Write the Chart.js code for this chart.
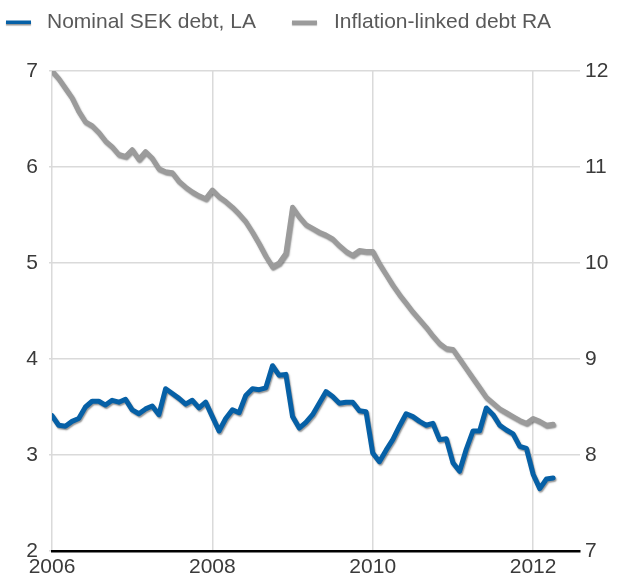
<!DOCTYPE html>
<html>
<head>
<meta charset="utf-8">
<script src="https://cdn.jsdelivr.net/npm/chart.js@4/dist/chart.umd.min.js"></script>
<style>
html,body{margin:0;padding:0;background:#fff;}
#wrap{width:619px;height:576px;position:relative;}
</style>
</head>
<body>
<div id="wrap"><canvas id="c" width="619" height="576"></canvas></div>
<script>
// ---- DATA ----
const months = [
"2006-01","2006-02","2006-03","2006-04","2006-05","2006-06","2006-07","2006-08","2006-09","2006-10","2006-11","2006-12",
"2007-01","2007-02","2007-03","2007-04","2007-05","2007-06","2007-07","2007-08","2007-09","2007-10","2007-11","2007-12",
"2008-01","2008-02","2008-03","2008-04","2008-05","2008-06","2008-07","2008-08","2008-09","2008-10","2008-11","2008-12",
"2009-01","2009-02","2009-03","2009-04","2009-05","2009-06","2009-07","2009-08","2009-09","2009-10","2009-11","2009-12",
"2010-01","2010-02","2010-03","2010-04","2010-05","2010-06","2010-07","2010-08","2010-09","2010-10","2010-11","2010-12",
"2011-01","2011-02","2011-03","2011-04","2011-05","2011-06","2011-07","2011-08","2011-09","2011-10","2011-11","2011-12",
"2012-01","2012-02","2012-03","2012-04"
];
const nominalSEK = [
3.41,3.31,3.30,3.35,3.38,3.50,3.56,3.56,3.52,3.57,3.55,3.58,
3.47,3.43,3.48,3.51,3.42,3.69,3.64,3.59,3.53,3.57,3.49,3.55,
3.40,3.25,3.38,3.47,3.44,3.62,3.69,3.68,3.70,3.93,3.83,3.84,
3.40,3.28,3.34,3.42,3.54,3.66,3.61,3.54,3.55,3.55,3.46,3.45,
3.02,2.93,3.05,3.16,3.30,3.43,3.40,3.35,3.31,3.33,3.16,3.17,
2.92,2.83,3.06,3.25,3.25,3.49,3.42,3.31,3.26,3.22,3.09,3.07,
2.80,2.65,2.75,2.76
];
const inflationLinked = [
12.00,11.92,11.82,11.72,11.58,11.47,11.43,11.36,11.27,11.21,11.13,11.11,
11.18,11.08,11.16,11.09,10.98,10.95,10.94,10.85,10.79,10.74,10.70,10.67,
10.76,10.69,10.64,10.58,10.51,10.43,10.32,10.20,10.07,9.96,10.00,10.10,
10.58,10.48,10.40,10.36,10.32,10.29,10.25,10.18,10.12,10.08,10.13,10.12,
10.12,9.99,9.88,9.77,9.67,9.58,9.49,9.41,9.33,9.24,9.16,9.11,
9.10,9.00,8.90,8.80,8.70,8.60,8.54,8.48,8.44,8.40,8.36,8.33,
8.38,8.35,8.31,8.32
];
const xTickYears = [2006, 2008, 2010, 2012];
const leftTicks = [2, 3, 4, 5, 6, 7];
const rightTicks = [7, 8, 9, 10, 11, 12];
const seriesLabels = ["Nominal SEK debt, LA", "Inflation-linked debt RA"];

// ---- BUILD ----
const toYear = s => { const [y, m] = s.split("-").map(Number); return y + (m - 1) / 12; };
const pts = vals => vals.map((v, i) => ({ x: toYear(months[i]), y: v }));

const BLUE = "#0660a6";
const GREY = "#9b9b9b";
const GRID = "#dadada";
const TICK = "#3a3a3a";
const FONT = "'Liberation Sans', Arial, sans-serif";

const shadowPlugin = {
  id: "shadow",
  beforeDatasetsDraw(chart) {
    const ctx = chart.ctx;
    ctx.save();
    ctx.shadowColor = "rgba(60,60,60,0.55)";
    ctx.shadowBlur = 1.5;
    ctx.shadowOffsetX = 1;
    ctx.shadowOffsetY = 1.5;
  },
  afterDatasetsDraw(chart) {
    chart.ctx.restore();
  }
};

const legendPlugin = {
  id: "customLegend",
  afterDraw(chart) {
    const ctx = chart.ctx;
    const items = [
      { mx: 6, tx: 47 },
      { mx: 292, tx: 334 }
    ];
    chart.data.datasets.forEach((ds, i) => {
      const it = items[i];
      ctx.save();
      ctx.shadowColor = "rgba(60,60,60,0.55)";
      ctx.shadowBlur = 1;
      ctx.shadowOffsetX = 0;
      ctx.shadowOffsetY = 1.5;
      ctx.fillStyle = ds.borderColor;
      ctx.fillRect(it.mx, 20.5, 25, 3.5);
      ctx.restore();
      ctx.save();
      ctx.font = "21px " + FONT;
      ctx.fillStyle = "#595959";
      ctx.textBaseline = "alphabetic";
      ctx.fillText(ds.label, it.tx, 27.5);
      ctx.restore();
    });
  }
};

new Chart(document.getElementById("c"), {
  type: "line",
  data: {
    datasets: [
      {
        label: seriesLabels[0],
        data: pts(nominalSEK),
        yAxisID: "y",
        borderColor: BLUE,
        backgroundColor: BLUE,
        borderWidth: 5,
        pointRadius: 0,
        tension: 0,
        borderJoinStyle: "round",
        borderCapStyle: "round"
      },
      {
        label: seriesLabels[1],
        data: pts(inflationLinked),
        yAxisID: "y1",
        borderColor: GREY,
        backgroundColor: GREY,
        borderWidth: 5,
        pointRadius: 0,
        tension: 0,
        borderJoinStyle: "round",
        borderCapStyle: "round"
      }
    ]
  },
  options: {
    responsive: false,
    animation: false,
    devicePixelRatio: 1,
    layout: { padding: { top: 71, left: 0, right: 0, bottom: 0 } },
    plugins: {
      legend: { display: false },
      tooltip: { enabled: false }
    },
    scales: {
      x: {
        type: "linear",
        min: 2006,
        max: 2012.585,
        afterBuildTicks: s => { s.ticks = xTickYears.map(v => ({ value: v })); },
        afterFit: s => { s.height = 25; },
        grid: { color: GRID, lineWidth: 1.5, drawTicks: false },
        border: { display: true, color: "#000", width: 2.5 },
        ticks: {
          color: TICK,
          font: { family: FONT, size: 21 },
          padding: 4,
          maxRotation: 0,
          callback: v => String(v)
        }
      },
      y: {
        position: "left",
        min: 2,
        max: 7,
        afterBuildTicks: s => { s.ticks = leftTicks.map(v => ({ value: v })); },
        afterFit: s => { s.width = 52; },
        grid: { color: GRID, lineWidth: 1.5, drawTicks: true, tickLength: 3 },
        border: { display: false },
        ticks: {
          color: TICK,
          font: { family: FONT, size: 21 },
          padding: 11
        }
      },
      y1: {
        position: "right",
        min: 7,
        max: 12,
        afterBuildTicks: s => { s.ticks = rightTicks.map(v => ({ value: v })); },
        afterFit: s => { s.width = 39; },
        grid: { display: false, drawTicks: false },
        border: { display: false },
        ticks: {
          color: TICK,
          font: { family: FONT, size: 21 },
          padding: 5
        }
      }
    }
  },
  plugins: [shadowPlugin, legendPlugin]
});
</script>
</body>
</html>
